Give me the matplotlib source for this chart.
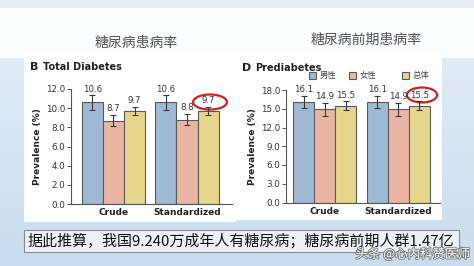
import numpy as np
import matplotlib.pyplot as plt
from matplotlib.patches import Rectangle, Ellipse
import matplotlib.patheffects as pe

plt.rcParams['font.family'] = ['Noto Sans CJK SC', 'DejaVu Sans']

# data
groups = ['Crude', 'Standardized']
series = ['男性', '女性', '总体']
colors = ['#9db9d4', '#e9b5a2', '#e5d68c']

diab = [[10.6, 8.7, 9.7], [10.6, 8.8, 9.7]]
diab_err = [[0.75, 0.6, 0.4], [0.75, 0.6, 0.45]]
pre = [[16.1, 14.9, 15.5], [16.1, 14.9, 15.5]]
pre_err = [[1.0, 1.0, 0.7], [1.0, 1.1, 0.7]]
diab_ticks = [0, 2, 4, 6, 8, 10, 12]
pre_ticks = [0, 3, 6, 9, 12, 15, 18]

W, H = 474, 266
fig = plt.figure(figsize=(W / 100, H / 100), dpi=100)

# slide background
bg = fig.add_axes([0, 0, 1, 1], zorder=-10)
grad = np.linspace(0, 1, 100)[:, None] * np.ones((1, 10))
bg.imshow(grad, cmap=plt.cm.colors.LinearSegmentedColormap.from_list(
    'bg', ['#e6eff8', '#c9dcef']), aspect='auto', extent=[0, W, H, 0])
bg.set_xlim(0, W)
bg.set_ylim(H, 0)
bg.axis('off')
bg.add_patch(Rectangle((0, 8), W, 50, color='#fbfcfe', lw=0))
bg.add_patch(Rectangle((24, 50), 212, 172, color='white', lw=0))
bg.add_patch(Rectangle((236, 50), 206, 170, color='white', lw=0))
bg.add_patch(Rectangle((24, 230), 435, 22, facecolor='#eef0f7',
                       edgecolor='#8a8a96', lw=0.8))


def panel(rect, vals, errs, ticks, xl):
    ax = fig.add_axes(rect)
    w = 0.286
    for g in range(len(groups)):
        for s in range(len(series)):
            x = g + (s - 1) * w
            ax.bar(x, vals[g][s], width=w, color=colors[s],
                   edgecolor='#5a5a5a', linewidth=0.8)
            ax.errorbar(x, vals[g][s], yerr=errs[g][s], color='#3a3a3a',
                        lw=0.8, capsize=2.5, capthick=0.8)
            ax.text(x, vals[g][s] + errs[g][s] + ticks[-1] * 0.015,
                    f'{vals[g][s]:.1f}', ha='center', va='bottom',
                    fontsize=6.2, color='#333333', family='DejaVu Sans')
    ax.set_xlim(*xl)
    ax.set_ylim(0, ticks[-1])
    ax.set_yticks(ticks)
    ax.set_yticklabels([f'{t:.1f}' for t in ticks], fontsize=6.3,
                       color='#333333', family='DejaVu Sans')
    ax.set_xticks(range(len(groups)))
    ax.set_xticklabels(groups, fontsize=6.5, fontweight='bold',
                       family='DejaVu Sans', color='#222222')
    ax.tick_params(axis='x', length=0, pad=3)
    ax.tick_params(axis='y', length=3, width=0.7, color='#555555', pad=1)
    for sp in ['top', 'right']:
        ax.spines[sp].set_visible(False)
    for sp in ['left', 'bottom']:
        ax.spines[sp].set_color('#555555')
        ax.spines[sp].set_linewidth(0.8)
    ax.set_facecolor('none')
    ax.set_ylabel('Prevalence (%)', fontsize=6.5, fontweight='bold',
                  family='DejaVu Sans', color='#222222', labelpad=3)
    return ax


ax1 = panel([71 / W, 1 - 204 / H, 161 / W, 115 / H], diab, diab_err,
            diab_ticks, (-0.578, 1.612))
ax2 = panel([286 / W, 1 - 202.5 / H, 154 / W, 112.5 / H], pre, pre_err,
            pre_ticks, (-0.53, 1.565))

# red circles around standardized total
ax1.add_patch(Ellipse((1.313, 10.64), 0.46, 1.57, fill=False,
                      edgecolor='#d41f1f', lw=1.6, clip_on=False))
ax2.add_patch(Ellipse((1.32, 17.2), 0.41, 2.4, fill=False,
                      edgecolor='#d41f1f', lw=1.6, clip_on=False))

# titles
fig.text(136 / W, 1 - 43 / H, '糖尿病患病率', ha='center', va='center',
         fontsize=10, color='#555555')
fig.text(366 / W, 1 - 40 / H, '糖尿病前期患病率', ha='center', va='center',
         fontsize=10, color='#555555')
fig.text(30 / W, 1 - 67 / H, 'B', ha='left', va='center', fontsize=8,
         fontweight='bold', family='DejaVu Sans', color='#222222')
fig.text(43 / W, 1 - 67 / H, 'Total Diabetes', ha='left', va='center',
         fontsize=7, fontweight='bold', family='DejaVu Sans', color='#222222')
fig.text(242 / W, 1 - 68 / H, 'D', ha='left', va='center', fontsize=8,
         fontweight='bold', family='DejaVu Sans', color='#222222')
fig.text(255 / W, 1 - 68 / H, 'Prediabetes', ha='left', va='center',
         fontsize=7, fontweight='bold', family='DejaVu Sans', color='#222222')

# legend
for s, x0 in zip(range(len(series)), [309, 349, 402]):
    bg.add_patch(Rectangle((x0, 72), 7, 7, facecolor=colors[s],
                           edgecolor='#5a5a5a', lw=0.8))
    bg.text(x0 + 11, 75.5, series[s], ha='left', va='center',
            fontsize=6, color='#444444')

# bottom statement
bg.text(28, 241, '据此推算，我国9.240万成年人有糖尿病；糖尿病前期人群1.47亿',
        ha='left', va='center', fontsize=10.8, color='#111111')

# watermark
bg.text(470, 254, '头条 @心内科赞医师', ha='right', va='center', fontsize=9,
        color='white', path_effects=[pe.withStroke(linewidth=1.2,
                                                    foreground='#777777')])

fig.savefig('out.png', dpi=100)
